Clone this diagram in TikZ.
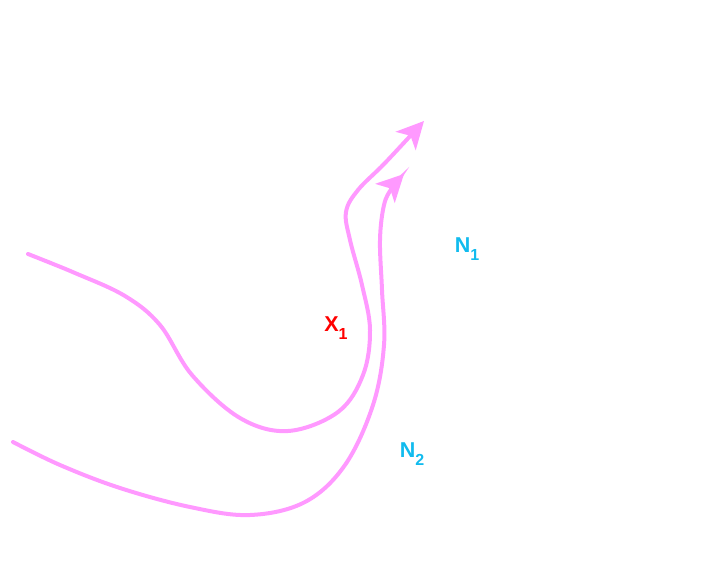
\documentclass[tikz,border=0pt]{standalone}
\usepackage{fontspec}
\setmainfont{Liberation Sans}
\usetikzlibrary{arrows.meta}
\definecolor{curvepink}{HTML}{FF99FF}
\definecolor{labred}{HTML}{FF0000}
\definecolor{labcyan}{HTML}{11BBEE}
\newcommand{\lbl}[2]{#1\raisebox{-8.5pt}{\fontsize{16}{18}\selectfont #2}}
\tikzset{
  curve/.style={draw=curvepink, line width=4pt, line cap=round, -{Stealth[length=27pt,width=27pt,inset=7pt]}},
  lab/.style={font=\fontsize{21.5}{24}\selectfont\bfseries, inner sep=0pt}
}
\begin{document}
\begin{tikzpicture}[x=1pt,y=-1pt]
\useasboundingbox (0,0) rectangle (720,570);
\draw[curve] plot[smooth, tension=0.6] coordinates {(28,254) (75,273) (125,296) (160,325) (192,375) (240,418) (288,431) (338,412) (363,375) (370,330) (362,285) (350,240) (346,212) (358,190) (385,163) (424,121)};
\draw[curve] plot[smooth, tension=0.6] coordinates {(13,442) (60,465) (120,488) (190,507) (250,515) (305,502) (345,465) (373,405) (384,345) (382,290) (380,240) (384,205) (392,188) (404,174)};
\node[lab, text=labred] (x1) at (336,328) {\lbl{X}{1}};
\node[lab, text=labcyan] (n1) at (467,249) {\lbl{N}{1}};
\node[lab, text=labcyan] (n2) at (412,454) {\lbl{N}{2}};
\end{tikzpicture}
\end{document}
